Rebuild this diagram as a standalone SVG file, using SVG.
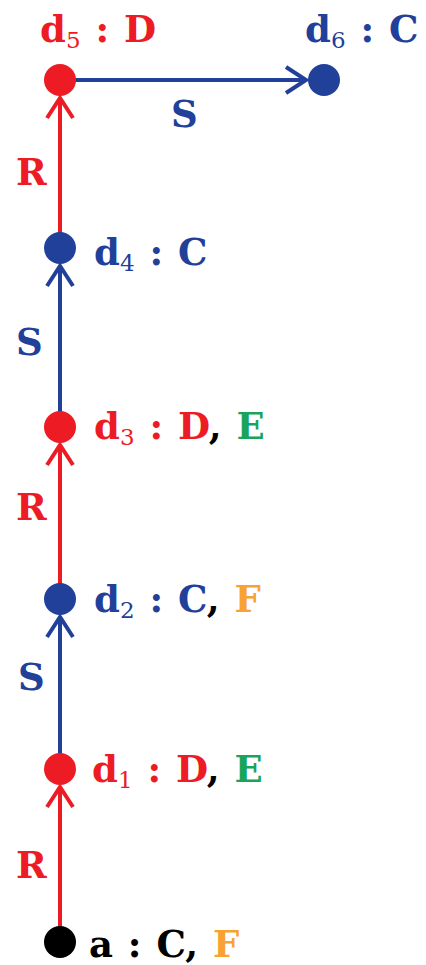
<svg xmlns="http://www.w3.org/2000/svg" width="426" height="965" viewBox="0 0 426 965">
<style>
text{font-family:"DejaVu Serif","Liberation Serif",serif;font-size:37px;font-weight:bold;word-spacing:2px}
.r{fill:#ED1C24}.b{fill:#21409A}.g{fill:#1AA35A}.o{fill:#F7A233}.k{fill:#000}
.sub{font-size:23px;font-weight:normal}
.er{stroke:#ED1C24;stroke-width:4;fill:none}
.eb{stroke:#21409A;stroke-width:4;fill:none}
</style>
<defs>
<marker id="ar" markerUnits="userSpaceOnUse" markerWidth="30" markerHeight="30" refX="0" refY="0" orient="auto" viewBox="-24 -15 30 30"><path d="M-20,-13 L0,0 L-20,13" stroke="#ED1C24" stroke-width="4" fill="none"/></marker>
<marker id="ab" markerUnits="userSpaceOnUse" markerWidth="30" markerHeight="30" refX="0" refY="0" orient="auto" viewBox="-24 -15 30 30"><path d="M-20,-13 L0,0 L-20,13" stroke="#21409A" stroke-width="4" fill="none"/></marker>
</defs>
<g id="connectors">
<line class="er" x1="60" y1="942" x2="60" y2="787" marker-end="url(#ar)"/>
<line class="eb" x1="60" y1="769" x2="60" y2="617" marker-end="url(#ab)"/>
<line class="er" x1="60" y1="599" x2="60" y2="445" marker-end="url(#ar)"/>
<line class="eb" x1="60" y1="427" x2="60" y2="266" marker-end="url(#ab)"/>
<line class="er" x1="60" y1="248" x2="60" y2="98" marker-end="url(#ar)"/>
<line class="eb" x1="60" y1="80" x2="306" y2="80" marker-end="url(#ab)"/>
<text class="r" x="16" y="878">R</text>
<text class="b" x="18" y="690">S</text>
<text class="r" x="16" y="520">R</text>
<text class="b" x="16" y="355">S</text>
<text class="r" x="16" y="185">R</text>
<text class="b" x="171" y="127">S</text>
</g>
<g id="a"><circle cx="60" cy="942" r="16" fill="#000"/><text x="89" y="957"><tspan class="k">a : C, </tspan><tspan class="o">F</tspan></text></g>
<g id="d1"><circle cx="60" cy="769" r="16" fill="#ED1C24"/><text x="92" y="782"><tspan class="r">d</tspan><tspan class="r sub" dy="6">1</tspan><tspan class="r" dy="-6"> : D</tspan><tspan class="k">, </tspan><tspan class="g">E</tspan></text></g>
<g id="d2"><circle cx="60" cy="599" r="16" fill="#21409A"/><text x="94" y="612"><tspan class="b">d</tspan><tspan class="b sub" dy="6">2</tspan><tspan class="b" dy="-6"> : C</tspan><tspan class="k">, </tspan><tspan class="o">F</tspan></text></g>
<g id="d3"><circle cx="60" cy="427" r="16" fill="#ED1C24"/><text x="94" y="439"><tspan class="r">d</tspan><tspan class="r sub" dy="6">3</tspan><tspan class="r" dy="-6"> : D</tspan><tspan class="k">, </tspan><tspan class="g">E</tspan></text></g>
<g id="d4"><circle cx="60" cy="248" r="16" fill="#21409A"/><text x="94" y="265"><tspan class="b">d</tspan><tspan class="b sub" dy="6">4</tspan><tspan class="b" dy="-6"> : C</tspan></text></g>
<g id="d5"><circle cx="60" cy="80" r="16" fill="#ED1C24"/><text x="40" y="42"><tspan class="r">d</tspan><tspan class="r sub" dy="6">5</tspan><tspan class="r" dy="-6"> : D</tspan></text></g>
<g id="d6"><circle cx="324" cy="80" r="16" fill="#21409A"/><text x="305" y="42"><tspan class="b">d</tspan><tspan class="b sub" dy="6">6</tspan><tspan class="b" dy="-6"> : C</tspan></text></g>
</svg>
